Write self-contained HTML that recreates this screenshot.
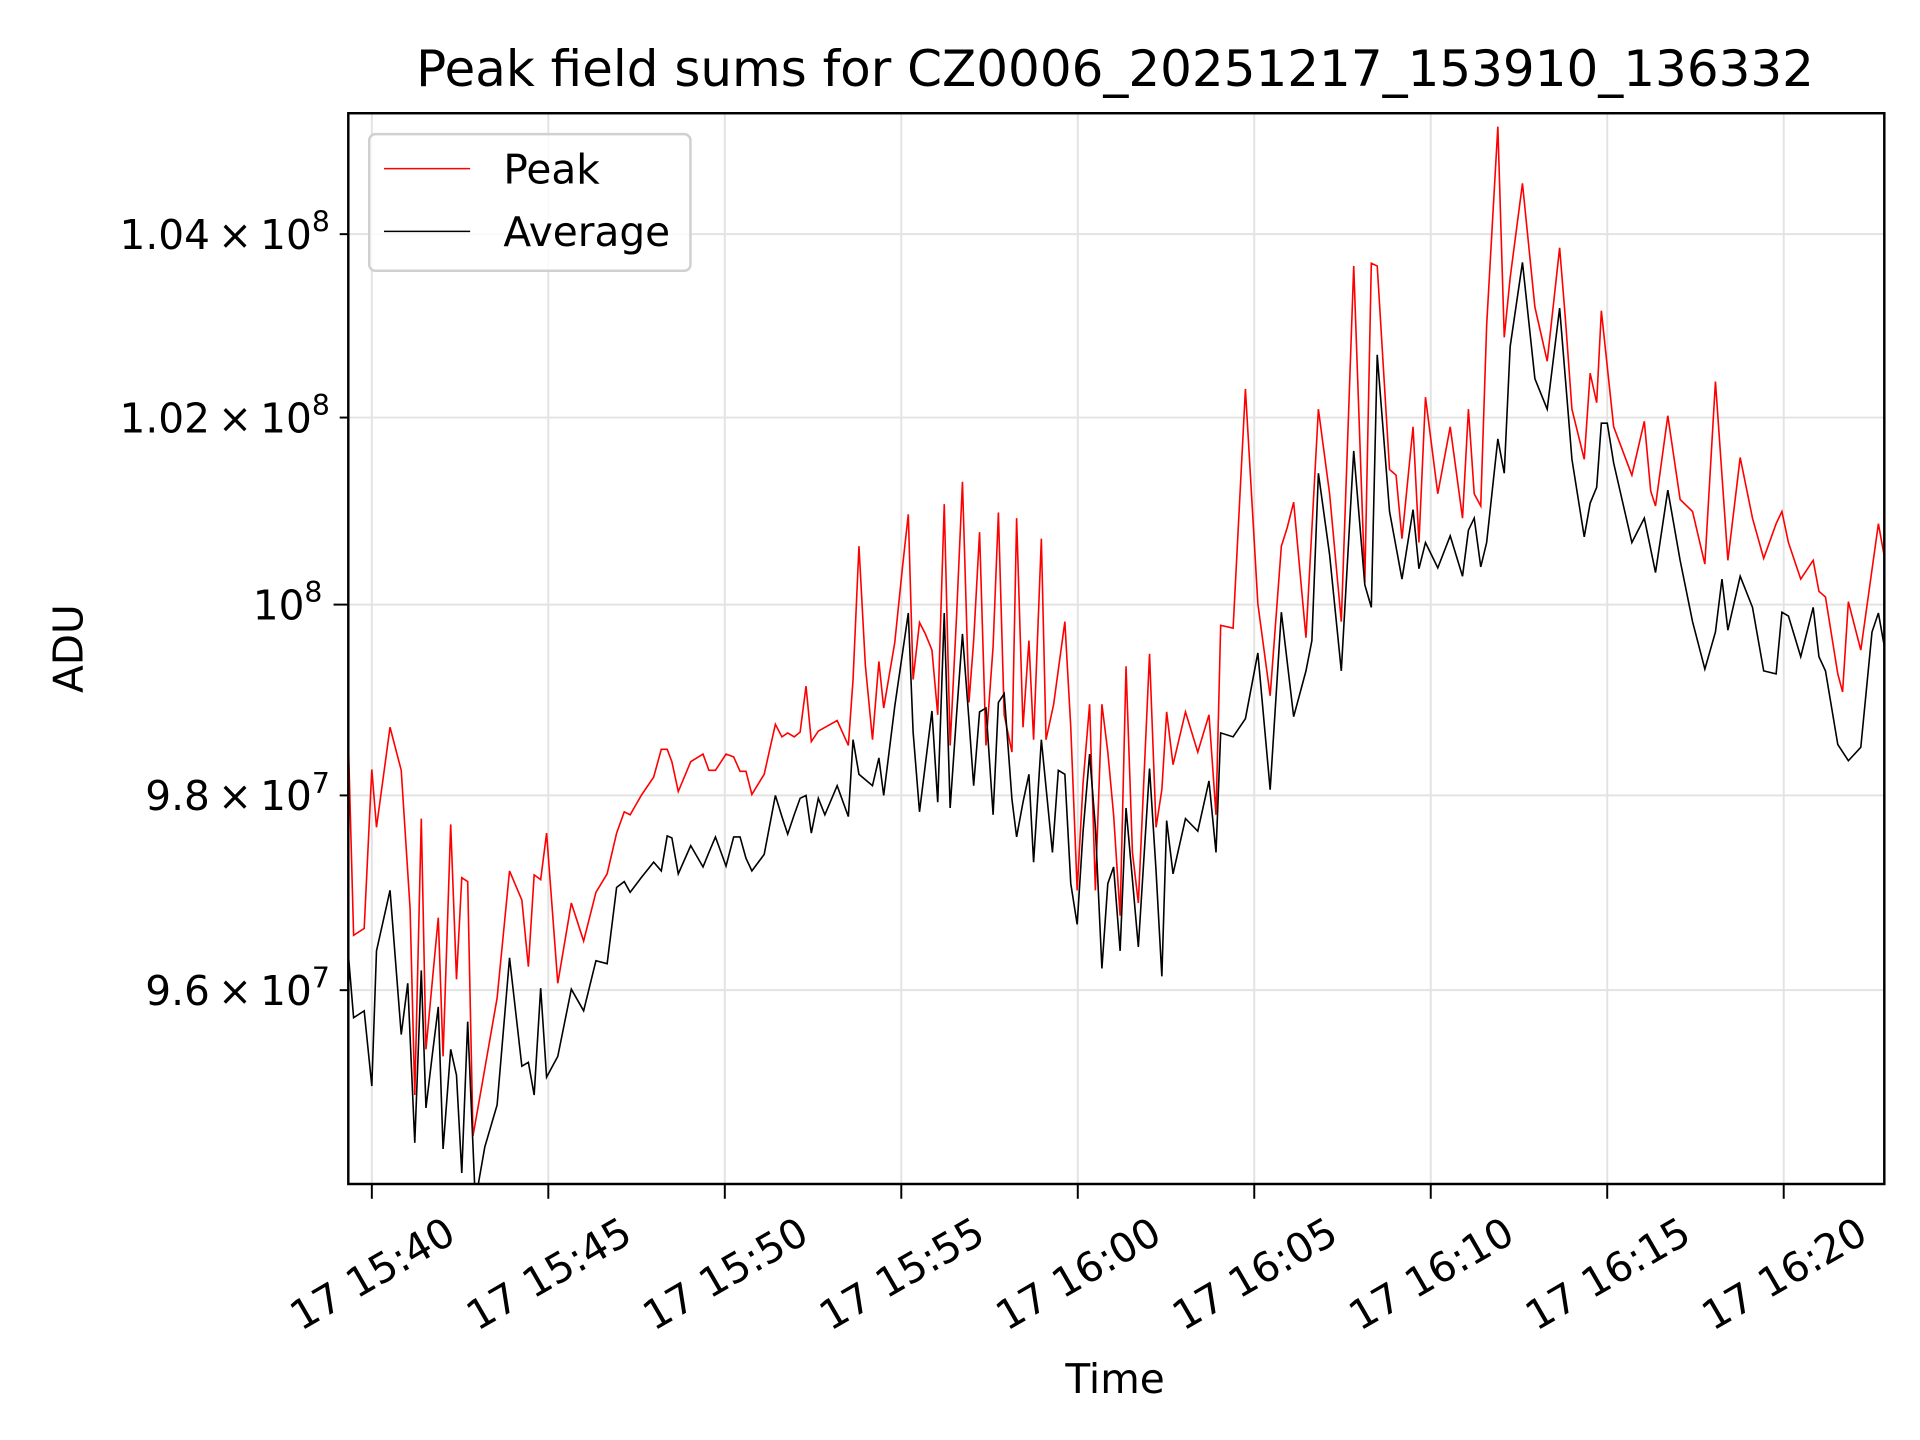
<!DOCTYPE html>
<html><head><meta charset="utf-8"><style>
html,body{margin:0;padding:0;background:#fff;}
svg{display:block;}
text{font-family:"DejaVu Sans","Liberation Sans",sans-serif;fill:#000;}
</style></head><body>
<svg id="chart" width="1920" height="1440" viewBox="0 0 1560 1170" xmlns="http://www.w3.org/2000/svg">
<rect width="1560" height="1170" fill="#fff"/>
<g id="grid"></g>
<g id="series"></g>
<rect x="283" y="92" width="1248" height="870" fill="none" stroke="#000" stroke-width="2"/>
<g id="xaxis"></g>
<g id="yaxis"></g>
<text x="906" y="70" font-size="40.6" text-anchor="middle">Peak field sums for CZ0006_20251217_153910_136332</text>
<text x="906" y="1132" font-size="33" text-anchor="middle">Time</text>
<text transform="translate(67,527) rotate(-90)" font-size="33" text-anchor="middle">ADU</text>
<g>
<rect x="300" y="109" width="261" height="111" rx="5" fill="#fff" fill-opacity="0.8" stroke="#d0d0d0" stroke-width="2"/>
<line x1="312" y1="137" x2="382" y2="137" stroke="#f00" stroke-width="1.3"/>
<text x="409" y="149" font-size="33">Peak</text>
<line x1="312" y1="188" x2="382" y2="188" stroke="#000" stroke-width="1.3"/>
<text x="409" y="200" font-size="33">Average</text>
</g>
</svg>
<script>
// time in seconds relative to 17 15:40:00, values in millions of ADU
const peakTimes = [-40,-31,-13,0,8,31,50,65,73,84,92,103,113,121,134,144,153,163,172,188,213,234,255,266,276,287,297,316,339,360,381,400,416,429,439,458,479,492,502,510,521,542,563,573,584,602,615,626,636,646,667,686,697,707,718,728,738,747,759,791,810,818,828,839,851,862,870,889,902,912,920,931,941,952,962,973,983,994,1004,1015,1023,1033,1044,1056,1065,1075,1088,1096,1107,1117,1125,1138,1146,1159,1178,1188,1199,1209,1220,1230,1241,1251,1261,1272,1282,1293,1303,1322,1333,1343,1351,1362,1383,1404,1423,1435,1443,1464,1485,1506,1527,1546,1556,1567,1588,1609,1628,1648,1669,1688,1699,1709,1730,1741,1751,1770,1780,1791,1812,1833,1854,1864,1874,1885,1895,1914,1925,1935,1956,1977,1998,2019,2029,2040,2061,2071,2082,2090,2111,2142,2163,2174,2182,2203,2224,2245,2266,2284,2305,2326,2347,2366,2387,2397,2408,2429,2450,2460,2471,2492,2500,2510,2531,2561,2571];
const peakValues = [98.58,96.56,96.63,98.27,97.67,98.71,98.26,96.83,94.94,97.76,95.40,96.11,96.74,95.33,97.70,96.11,97.15,97.11,94.53,95.07,95.92,97.22,96.92,96.24,97.18,97.13,97.61,96.07,96.89,96.50,97.00,97.19,97.61,97.83,97.80,98.00,98.19,98.48,98.48,98.35,98.04,98.35,98.43,98.26,98.26,98.43,98.40,98.25,98.25,98.01,98.22,98.74,98.61,98.65,98.61,98.66,99.14,98.56,98.67,98.78,98.52,99.21,100.62,99.36,98.58,99.40,98.91,99.60,100.40,100.96,99.21,99.81,99.69,99.52,98.84,101.07,98.52,99.88,101.31,98.97,99.62,100.77,98.52,99.56,100.98,98.84,98.45,100.92,98.71,99.62,98.58,100.70,98.58,98.95,99.82,98.71,97.02,98.13,98.95,97.02,98.95,98.45,97.80,96.76,99.35,97.41,96.89,99.48,97.67,98.06,98.87,98.32,98.87,98.45,98.84,97.80,99.78,99.75,102.31,100.01,99.04,100.62,100.82,101.09,99.65,102.09,101.18,99.82,103.65,100.23,103.68,103.65,101.44,101.38,100.70,101.90,100.66,102.22,101.18,101.90,100.92,102.09,101.18,101.05,103.00,105.19,102.87,103.52,104.56,103.20,102.61,103.85,103.07,102.09,101.55,102.48,102.16,103.16,101.90,101.38,101.96,101.21,101.05,102.02,101.12,100.99,100.43,102.39,100.47,101.57,100.92,100.49,100.86,100.99,100.66,100.27,100.47,100.14,100.08,99.27,99.08,100.03,99.52,100.86,100.51];
const avgTimes = [-40,-31,-13,0,8,31,50,61,73,84,92,103,113,121,134,144,153,163,176,192,213,234,255,266,276,287,297,316,339,360,381,400,416,429,439,458,479,492,502,510,521,542,563,573,584,602,615,626,636,646,667,686,697,707,718,728,738,747,759,770,791,810,818,828,851,862,870,889,902,912,920,931,952,962,973,983,994,1004,1015,1023,1033,1044,1056,1065,1075,1088,1096,1107,1117,1125,1138,1157,1167,1178,1188,1199,1209,1220,1230,1241,1251,1261,1272,1282,1293,1303,1322,1333,1343,1351,1362,1383,1404,1423,1435,1443,1464,1485,1506,1527,1546,1567,1588,1598,1609,1628,1648,1669,1688,1699,1709,1730,1751,1770,1780,1791,1812,1833,1854,1864,1874,1885,1895,1914,1925,1935,1956,1977,1998,2019,2040,2061,2071,2082,2090,2100,2111,2142,2163,2182,2203,2224,2245,2266,2284,2295,2305,2326,2347,2366,2387,2397,2408,2429,2450,2460,2471,2492,2510,2531,2550,2561,2571];
const avgValues = [96.37,95.72,95.79,95.03,96.40,97.02,95.55,96.07,94.46,96.20,94.81,95.36,95.83,94.40,95.40,95.14,94.16,95.68,93.88,94.42,94.84,96.33,95.23,95.27,94.94,96.02,95.12,95.33,96.01,95.79,96.30,96.27,97.05,97.11,97.00,97.15,97.31,97.22,97.58,97.56,97.19,97.48,97.26,97.41,97.57,97.27,97.57,97.57,97.35,97.22,97.39,98.00,97.78,97.60,97.80,97.97,98.00,97.61,97.97,97.80,98.10,97.78,98.58,98.22,98.10,98.39,98.00,98.93,99.49,99.91,98.66,97.83,98.88,97.93,99.91,97.87,98.84,99.69,98.78,98.10,98.87,98.91,97.80,98.97,99.06,97.96,97.57,97.93,98.22,97.31,98.58,97.41,98.26,98.22,97.09,96.67,97.63,98.43,97.67,96.22,97.09,97.26,96.40,97.87,97.13,96.44,98.28,97.22,96.14,97.74,97.19,97.76,97.63,98.15,97.41,98.65,98.61,98.80,99.49,98.06,99.92,98.82,99.30,99.62,101.40,100.53,99.30,101.64,100.21,99.97,102.68,100.99,100.27,101.01,100.38,100.66,100.39,100.73,100.30,100.79,100.92,100.40,100.66,101.77,101.40,102.77,103.69,102.42,102.09,103.19,101.55,100.72,101.08,101.25,101.94,101.94,101.51,100.66,100.92,100.34,101.22,100.47,99.82,99.32,99.71,100.27,99.73,100.30,99.97,99.30,99.27,99.92,99.88,99.45,99.97,99.45,99.30,98.53,98.36,98.50,99.71,99.91,99.56];
const xTickSeconds = [0,300,600,900,1200,1500,1800,2100,2400];
const xTickLabels = ["17 15:40","17 15:45","17 15:50","17 15:55","17 16:00","17 16:05","17 16:10","17 16:15","17 16:20"];
const yTickValues = [96,98,100,102,104];
const yTickMantissa = ["9.6","9.8","","1.02","1.04"];
const yTickExp = ["7","7","8","8","8"];

const NS = "http://www.w3.org/2000/svg";
const L = 283, R = 1531, T = 92, B = 962;
const xMin = -40, xMax = 2571, yMin = 94.05, yMax = 105.34;
function xs(t){ return L + (t - xMin) / (xMax - xMin) * (R - L); }
function ys(v){ return B - (Math.log(v) - Math.log(yMin)) / (Math.log(yMax) - Math.log(yMin)) * (B - T); }
function mk(tag, attrs, parent){
  const e = document.createElementNS(NS, tag);
  for (const k in attrs) e.setAttribute(k, attrs[k]);
  parent.appendChild(e); return e;
}
const grid = document.getElementById('grid');
const xa = document.getElementById('xaxis');
const ya = document.getElementById('yaxis');

xTickSeconds.forEach((s, i) => {
  const x = xs(s);
  const g = mk('line', {x1:x, y1:T, x2:x, y2:B, stroke:'#e3e3e3', 'stroke-width':1.6}, grid);
  
  
  const tk = mk('line', {x1:x, y1:B, x2:x, y2:B+12, stroke:'#000', 'stroke-width':1.6}, xa);
  
  
  const tx = mk('text', {x:0, y:0, 'font-size':33, 'text-anchor':'end', transform:`translate(${x+70},${B+46}) rotate(-30)`}, xa);
  tx.textContent = xTickLabels[i];
  
  
});

yTickValues.forEach((v, i) => {
  const y = ys(v);
  const g = mk('line', {x1:L, y1:y, x2:R, y2:y, stroke:'#e3e3e3', 'stroke-width':1.6}, grid);
  
  
  const major = yTickMantissa[i] === "";
  const tk = mk('line', {x1:L - (major ? 12 : 7), y1:y, x2:L, y2:y, stroke:'#000', 'stroke-width':1.6}, ya);
  
  
  const tx = mk('text', {x:major ? 262 : 268, y:y + 12, 'font-size':33, 'text-anchor':'end'}, ya);
  
  
  const base = document.createElementNS(NS, 'tspan');
  base.textContent = (major ? "10" : yTickMantissa[i] + "\u2009\u00d7\u200910");
  tx.appendChild(base);
  const sup = document.createElementNS(NS, 'tspan');
  sup.setAttribute('dy', '-14'); sup.setAttribute('font-size', '23');
  sup.textContent = yTickExp[i];
  tx.appendChild(sup);
});

const series = document.getElementById('series');
const clip = mk('clipPath', {id:'plotclip'}, series);
mk('rect', {x:L, y:T, width:R-L, height:B-T}, clip);
function drawLine(ts, vs, color, name){
  const pts = ts.map((t, i) => xs(t).toFixed(1) + ',' + ys(vs[i]).toFixed(1)).join(' ');
  const p = mk('polyline', {points:pts, fill:'none', stroke:color, 'stroke-width':1.3, 'stroke-linejoin':'miter', 'clip-path':'url(#plotclip)'}, series);
  
  
}
drawLine(peakTimes, peakValues, '#f00', 'peak-line');
drawLine(avgTimes, avgValues, '#000', 'average-line');
</script>
</body></html>
